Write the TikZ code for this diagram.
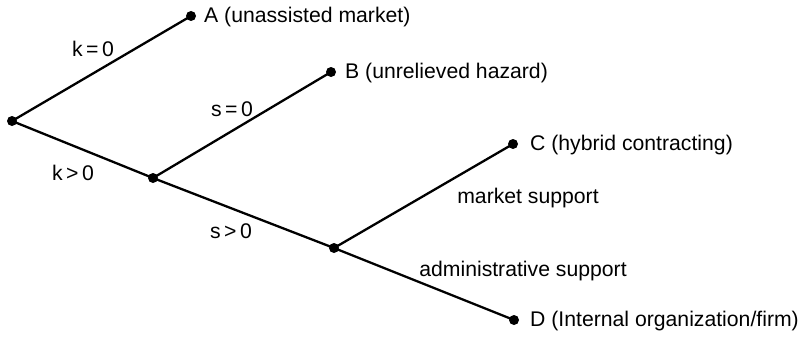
\documentclass[tikz,border=0pt]{standalone}
\usepackage{fontspec}
\setmainfont{Liberation Sans}
\begin{document}
\begin{tikzpicture}[x=1pt,y=-1pt,
  dot/.style={circle,fill=black,inner sep=0pt,minimum size=10pt},
  branch/.style={line width=2.3pt},
  leaf/.style={anchor=west,inner sep=0pt,font=\fontsize{21.2}{24}\selectfont},
  lbl/.style={inner sep=0pt,font=\fontsize{21.2}{24}\selectfont}]
\useasboundingbox (0,0) rectangle (799,337);
% decision points
\node[dot] (r)  at (12,121) {};
\node[dot] (n1) at (153,178) {};
\node[dot] (n2) at (334,248) {};
% outcomes
\node[dot] (a) at (191,16) {};
\node[dot] (b) at (331,72) {};
\node[dot] (c) at (513,144) {};
\node[dot] (d) at (514,320) {};
% branches
\draw[branch] (r.center) -- (a.center);
\draw[branch] (r.center) -- (n1.center);
\draw[branch] (n1.center) -- (b.center);
\draw[branch] (n1.center) -- (n2.center);
\draw[branch] (n2.center) -- (c.center);
\draw[branch] (n2.center) -- (d.center);
% outcome names
\node[leaf] (ta) at (204,17) {A (unassisted market)};
\node[leaf] (tb) at (345,73) {B (unrelieved hazard)};
\node[leaf] (tc) at (530,145) {C (hybrid contracting)};
\node[leaf] (td) at (530,321) {D (Internal organization/firm)};
% branch conditions
\node[lbl] (lk0) at (93,49) {k\,=\,0};
\node[lbl] (lk1) at (73,173) {k\,>\,0};
\node[lbl] (ls0) at (232,109) {s\,=\,0};
\node[lbl] (ls1) at (231,231) {s\,>\,0};
\node[lbl] (lm)  at (528,198) {market support};
\node[lbl] (lad) at (523,271) {administrative support};
\end{tikzpicture}
\end{document}
